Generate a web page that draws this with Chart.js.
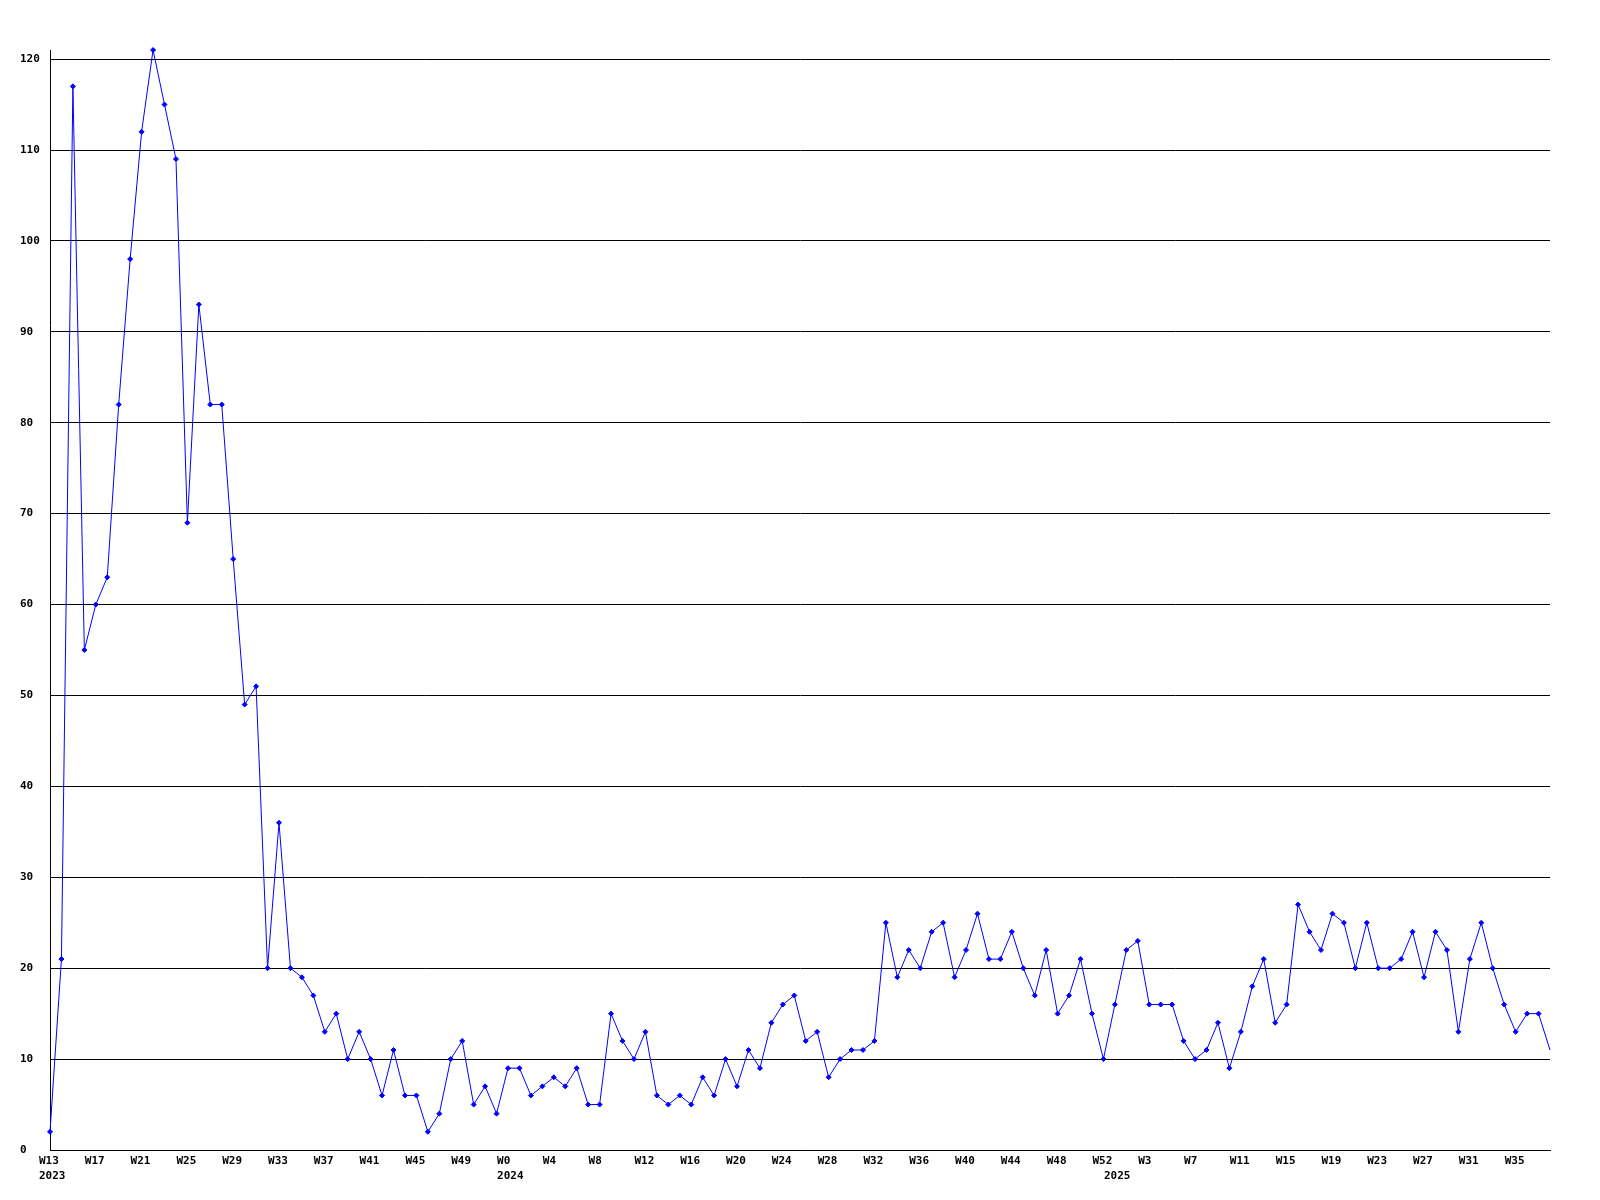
<!DOCTYPE html>
<html>
<head>
<meta charset="utf-8">
<script src="https://cdn.jsdelivr.net/npm/chart.js@4/dist/chart.umd.min.js"></script>
<style>
  html, body { margin: 0; padding: 0; background: #fff; }
  #myChart { display: block; }
</style>
</head>
<body>
<canvas id="myChart" width="1600" height="1200"></canvas>
<script>
// Weeks per year (week-of-year labels as shown on the axis)
const weeks2023 = ['W13','W14','W15','W16','W17','W18','W19','W20','W21','W22',
  'W23','W24','W25','W26','W27','W28','W29','W30','W31','W32',
  'W33','W34','W35','W36','W37','W38','W39','W40','W41','W42',
  'W43','W44','W45','W46','W47','W48','W49','W50','W51','W52'];
const weeks2024 = ['W0','W1','W2','W3','W4','W5','W6','W7','W8','W9',
  'W10','W11','W12','W13','W14','W15','W16','W17','W18','W19',
  'W20','W21','W22','W23','W24','W25','W26','W27','W28','W29',
  'W30','W31','W32','W33','W34','W35','W36','W37','W38','W39',
  'W40','W41','W42','W43','W44','W45','W46','W47','W48','W49',
  'W50','W51','W52'];
const weeks2025 = ['W0','W1','W2','W3','W4','W5','W6','W7','W8','W9',
  'W10','W11','W12','W13','W14','W15','W16','W17','W18','W19',
  'W20','W21','W22','W23','W24','W25','W26','W27','W28','W29',
  'W30','W31','W32','W33','W34','W35','W36','W37','W38'];

// Weekly counts
const values2023 = [2, 21, 117, 55, 60, 63, 82, 98, 112, 121,
  115, 109, 69, 93, 82, 82, 65, 49, 51, 20,
  36, 20, 19, 17, 13, 15, 10, 13, 10, 6,
  11, 6, 6, 2, 4, 10, 12, 5, 7, 4];
const values2024 = [9, 9, 6, 7, 8, 7, 9, 5, 5, 15,
  12, 10, 13, 6, 5, 6, 5, 8, 6, 10,
  7, 11, 9, 14, 16, 17, 12, 13, 8, 10,
  11, 11, 12, 25, 19, 22, 20, 24, 25, 19,
  22, 26, 21, 21, 24, 20, 17, 22, 15, 17,
  21, 15, 10];
const values2025 = [16, 22, 23, 16, 16, 16, 12, 10, 11, 14,
  9, 13, 18, 21, 14, 16, 27, 24, 22, 26,
  25, 20, 25, 20, 20, 21, 24, 19, 24, 22,
  13, 21, 25, 20, 16, 13, 15, 15, 11];

const yearNames = ['2023', '2024', '2025'];

// flatten into one series, remember where each year starts
const labels = [...weeks2023, ...weeks2024, ...weeks2025];
const values = [...values2023, ...values2024, ...values2025];
const yearStart = {};
yearStart[0] = yearNames[0];
yearStart[weeks2023.length] = yearNames[1];
yearStart[weeks2023.length + weeks2024.length] = yearNames[2];

const labelFont = { family: "'DejaVu Sans Mono', monospace", size: 11, weight: 'bold', lineHeight: 1.36 };
const last = values.length - 1;

new Chart('myChart', {
  type: 'line',
  data: {
    labels: labels,
    datasets: [{
      data: values,
      borderColor: '#0000ff',
      backgroundColor: '#0000ff',
      borderWidth: 1,
      tension: 0,
      pointStyle: 'rectRot',
      pointRadius: (c) => c.dataIndex === last ? 0 : 2.5,
      pointBorderWidth: 1,
      clip: false
    }]
  },
  options: {
    responsive: false,
    animation: false,
    devicePixelRatio: 1,
    layout: { padding: { left: 20, top: 50, right: 50, bottom: 0 } },
    plugins: {
      legend: { display: false },
      tooltip: { enabled: false }
    },
    scales: {
      x: {
        type: 'category',
        offset: false,
        grid: { display: false, drawTicks: false },
        border: { display: true, color: '#000', width: 1 },
        afterFit: (s) => { s.height = 50; },
        ticks: {
          autoSkip: false,
          maxRotation: 0,
          minRotation: 0,
          align: 'start',
          labelOffset: -11,
          padding: 4,
          color: '#000',
          font: labelFont,
          callback: function (val, i) {
            const wk = i % 4 === 0 ? this.getLabelForValue(val) : '';
            const yr = yearStart[i];
            if (yr) return [wk, yr];
            return wk;
          }
        }
      },
      y: {
        min: 0,
        max: 121,
        bounds: 'data',
        grid: { color: '#000', lineWidth: 1, drawTicks: false },
        border: { display: true, color: '#000', width: 1 },
        afterFit: (s) => { s.width = 30; },
        // only the round tens get a label and a grid line
        afterBuildTicks: (s) => { s.ticks = s.ticks.filter(t => t.value % 10 === 0); },
        ticks: {
          stepSize: 10,
          crossAlign: 'far',
          padding: 0,
          color: '#000',
          font: labelFont
        }
      }
    }
  }
});
</script>
</body>
</html>
